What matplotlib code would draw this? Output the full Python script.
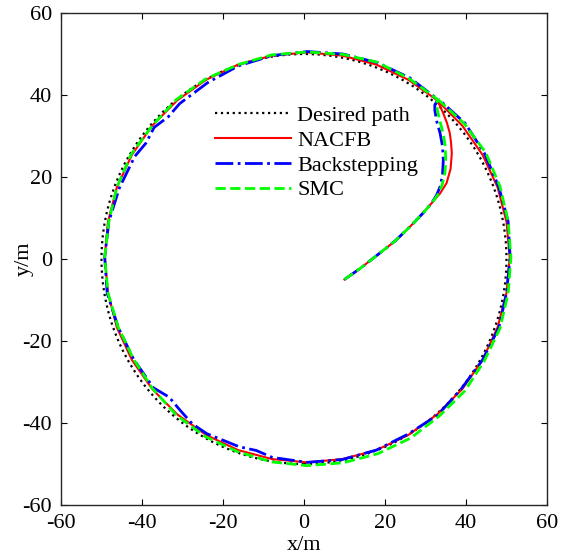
import matplotlib
matplotlib.use("Agg")
import matplotlib.pyplot as plt
from matplotlib.patches import Circle
from matplotlib.lines import Line2D

plt.rcParams["font.family"] = ["Liberation Serif", "DejaVu Serif"]
plt.rcParams["axes.unicode_minus"] = False

# desired circular path
path_center = (0.0, 0.0)
path_radius = 50.0

# NACFB trajectory (approach + one lap, counter-clockwise)
nacfb_x = [10, 14, 18.8, 22.5, 26.5, 29.5, 31.5, 33.6, 35.2, 36.2, 36.5, 36.3, 36.0, 35.3, 34.4, 33.6,
           32.9, 25.8, 17.9, 9.5, 0.8, -7.9, -16.3, -24.2, -31.3, -37.5, -42.5, -46.2, -48.4, -49.2,
           -48.4, -46.2, -42.5, -37.5, -31.3, -24.2, -16.3, -7.9, 0.8, 9.5, 17.9, 25.8, 32.9, 39.1,
           44.1, 47.8, 50.0, 50.8, 50.0, 47.8, 44.1, 39.1, 32.9]
nacfb_y = [-5, -2.2, 1.5, 4.4, 8.2, 11.3, 13.6, 16.0, 18.5, 22.0, 25.8, 28.5, 30.7, 33.2, 35.5, 37.3,
           38.7, 43.7, 47.4, 49.6, 50.4, 49.6, 47.4, 43.7, 38.7, 32.5, 25.4, 17.5, 9.1, 0.4,
           -8.3, -16.7, -24.6, -31.7, -37.9, -42.9, -46.6, -48.8, -49.6, -48.8, -46.6, -42.9, -37.9, -31.7,
           -24.6, -16.7, -8.3, 0.4, 9.1, 17.5, 25.4, 32.5, 38.7]

# Backstepping trajectory
bs_x = [10, 14, 18.8, 22.5, 26.5, 29.5, 31.5, 32.7, 33.6, 34.2, 34.4, 34.2, 33.6, 32.8, 32.3, 32.3,
        33.1, 26.1, 18.1, 9.6, 0.8, -7.9, -16.2, -23.8, -30.7, -33.5, -37.0, -39.0, -41.8, -45.6,
        -48.2, -49.2, -48.6, -45.9, -42.1, -37.2, -33.3, -30.5, -27.6, -24.0, -16.0, -11.8, -7.8,
        0.8, 9.5, 17.9, 25.7, 33.0, 38.9, 44.1, 48.1, 50.0, 50.9, 50.4, 48.1, 44.6, 39.8, 33.2]
bs_y = [-5, -2.2, 1.5, 4.4, 8.2, 11.3, 13.6, 15.5, 17.6, 20.5, 24.1, 27.5, 30.7, 33.5, 36.3, 37.6,
        38.9, 44.2, 47.9, 50.0, 50.6, 49.6, 47.1, 43.0, 37.9, 34.7, 32.1, 28.3, 25.0, 17.3,
        9.1, 0.4, -8.3, -16.6, -24.4, -31.4, -33.7, -37.0, -40.2, -42.6, -45.8, -46.7, -48.4,
        -49.6, -48.9, -46.6, -42.7, -38.1, -31.6, -24.6, -16.8, -8.3, 0.4, 9.2, 17.6, 25.7, 33.1, 39.0]

# SMC trajectory
smc_x = [10, 14, 18.8, 22.5, 26.5, 29.5, 31.5, 33.0, 34.1, 34.8, 35.0, 34.9, 34.4, 33.6, 33.0, 32.7,
         33.0, 26.0, 18.1, 9.6, 0.8, -7.9, -16.3, -24.3, -31.5, -37.5, -42.7, -46.2, -48.2, -49.2,
         -48.4, -45.9, -42.1, -37.4, -31.5, -24.4, -16.4, -8.0, 0.8, 9.7, 18.2, 26.3, 33.3, 39.7,
         44.5, 48.4, 50.4, 51.1, 50.4, 48.4, 44.9, 39.6, 33.1]
smc_y = [-5, -2.2, 1.5, 4.4, 8.2, 11.3, 13.6, 15.6, 18.0, 21.0, 24.1, 27.3, 30.5, 33.5, 36.0, 37.8,
         38.9, 44.0, 48.0, 49.9, 50.5, 49.8, 47.4, 43.9, 38.9, 32.5, 25.5, 17.5, 9.1, 0.4,
         -8.3, -16.6, -24.4, -31.6, -38.1, -43.3, -47.0, -49.5, -50.4, -49.7, -47.5, -43.7, -38.4, -32.2,
         -24.9, -16.9, -8.4, 0.4, 9.2, 17.7, 25.9, 33.0, 38.9]

ticks = [-60, -40, -20, 0, 20, 40, 60]

fig = plt.figure(figsize=(5.68, 5.58), dpi=100)
ax = fig.add_axes([0.1074, 0.095, 0.8556, 0.8817])

ax.add_patch(Circle(path_center, path_radius, fill=False, ls=":", lw=1.6, color="black", zorder=1))
ax.plot(nacfb_x, nacfb_y, "-", color="#ff0000", lw=1.5, zorder=2)
ax.plot(bs_x, bs_y, "-.", color="#0000ff", lw=2, zorder=3)
ax.plot(smc_x, smc_y, "--", color="#00ff00", lw=2, zorder=4)

handles = [
    Line2D([], [], ls=":", lw=1.6, color="black"),
    Line2D([], [], ls="-", lw=1.5, color="#ff0000"),
    Line2D([], [], ls="-.", lw=2, color="#0000ff"),
    Line2D([], [], ls="--", lw=2, color="#00ff00"),
]
labels = ["Desired path", "NACFB", "Backstepping", "SMC"]
ax.legend(handles, labels, loc="upper left", bbox_to_anchor=(0.317, 0.812), frameon=False,
          fontsize=16, handlelength=3.4, handletextpad=0.3, labelspacing=0.19,
          borderpad=0, borderaxespad=0)

ax.set_xlim(-60, 60)
ax.set_ylim(-60, 60)
ax.set_xticks(ticks)
ax.set_yticks(ticks)
ax.tick_params(direction="in", top=True, right=True, labelsize=16, length=4, width=0.8, pad=6.5)
for s in ax.spines.values():
    s.set_linewidth(1.0)
    s.set_color("#262626")
ax.set_xlabel("x/m", fontsize=16, labelpad=2)
ax.set_ylabel("y/m", fontsize=16, labelpad=-8)

fig.savefig("out.png", dpi=100)
